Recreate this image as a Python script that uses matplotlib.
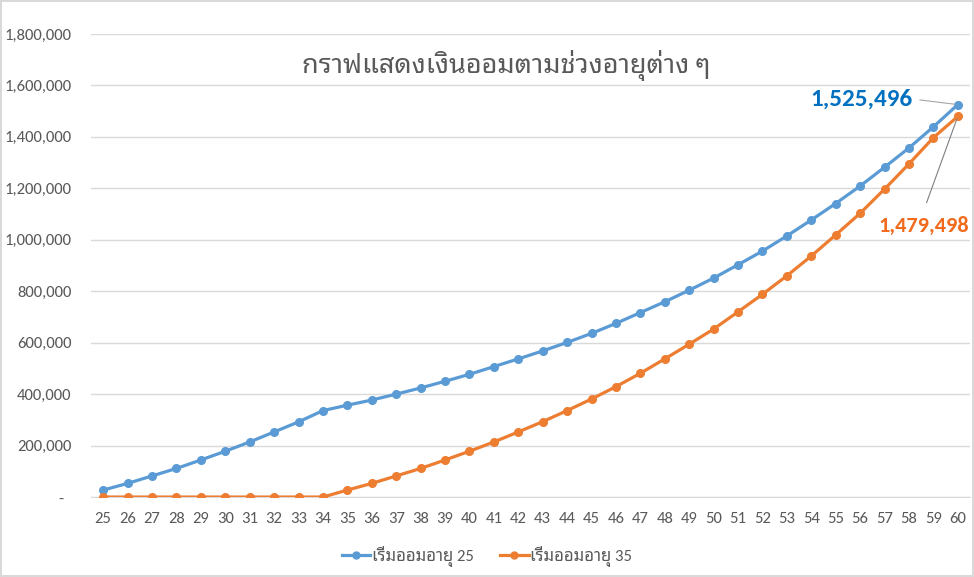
import matplotlib
matplotlib.use("Agg")
import matplotlib.pyplot as plt
from matplotlib import font_manager as fm
from matplotlib.ticker import FuncFormatter
from matplotlib.lines import Line2D

# ข้อมูล (อ่านค่าจากกราฟ, หน่วย: บาท)
ages = list(range(25, 61))
start25 = [27000, 53000, 82000, 111000, 144000, 178000, 214000, 253000, 292000, 336000,
           357000, 377000, 400000, 424000, 450000, 477000, 507000, 537000, 568000, 601000,
           636000, 675000, 717000, 759000, 804000, 851000, 903000, 956000, 1015000, 1077000,
           1141000, 1209000, 1282000, 1357000, 1439000, 1525496]
start35 = [0, 0, 0, 0, 0, 0, 0, 0, 0, 0,
           27000, 53000, 82000, 111000, 144000, 178000, 214000, 253000, 293000, 336000,
           381000, 429000, 481000, 537000, 594000, 653000, 720000, 788000, 860000, 937000,
           1019000, 1103000, 1197000, 1295000, 1397000, 1479498]
labels = ["เริ่มออมอายุ 25", "เริ่มออมอายุ 35"]
title = "กราฟแสดงเงินออมตามช่วงอายุต่าง ๆ"

# ฟอนต์: ตัวเลขแบบ Calibri + ภาษาไทย
names = set(f.name for f in fm.fontManager.ttflist)
fams = [f for f in ["Carlito", "Open Sans", "Noto Sans Thai Looped", "Noto Sans Thai", "DejaVu Sans"] if f in names]
plt.rcParams["font.family"] = fams

blue = "#5B9BD5"
orange = "#ED7D31"
grey = "#595959"

fig = plt.figure(figsize=(9.74, 5.77), dpi=100)
fig.patch.set_edgecolor("#D9D9D9")
fig.patch.set_linewidth(1.5)
ax = fig.add_axes([0.0934, 0.1386, 0.9025, 0.8025])

ax.plot(ages, start25, color=blue, lw=2.3, marker="o", ms=5.5, label=labels[0], zorder=3)
ax.plot(ages, start35, color=orange, lw=2.3, marker="o", ms=5.5, label=labels[1], zorder=3)

ax.set_xlim(24.5, 60.5)
ax.set_ylim(0, 1800000)
ax.set_yticks(range(0, 1800001, 200000))
ax.set_xticks(ages)
ax.yaxis.set_major_formatter(FuncFormatter(lambda v, p: "-  " if v == 0 else f"{v:,.0f}"))
ax.grid(axis="y", color="#D9D9D9", lw=1)
ax.set_axisbelow(True)
for s in ["top", "right", "left"]:
    ax.spines[s].set_visible(False)
ax.spines["bottom"].set_color("#D9D9D9")
ax.tick_params(axis="both", length=0, labelsize=12, labelcolor=grey)
ax.tick_params(axis="y", pad=14)
ax.tick_params(axis="x", pad=11)

fig.text(0.52, 0.887, title, ha="center", va="center", fontsize=19.5, color=grey)

# ป้ายค่าสุดท้าย
ax.annotate(f"{start25[-1]:,}", xy=(ages[-1], start25[-1]), xytext=(56.07, 1547000),
            ha="center", va="center", fontsize=18, fontweight="bold", color="#0070C0",
            arrowprops=dict(arrowstyle="-", color="#A6A6A6", lw=0.8, relpos=(1, 0.5),
                            shrinkA=3, shrinkB=2))
ax.annotate(f"{start35[-1]:,}", xy=(ages[-1], start35[-1]), xytext=(58.6, 1054000),
            ha="center", va="center", fontsize=16, fontweight="bold", color="#F26B1D",
            annotation_clip=False,
            arrowprops=dict(arrowstyle="-", color="#7F7F7F", lw=0.8, relpos=(0.48, 1),
                            shrinkA=8, shrinkB=2))

handles = [Line2D([], [], color=blue, lw=2.3, marker="o", ms=5),
           Line2D([], [], color=orange, lw=2.3, marker="o", ms=5)]
fig.legend(handles, labels, loc="center", bbox_to_anchor=(0.5, 0.036), ncol=2,
           frameon=False, fontsize=12, labelcolor=grey, handlelength=1.7,
           handletextpad=0.1, columnspacing=1.6)

fig.savefig("out.png", dpi=100)
